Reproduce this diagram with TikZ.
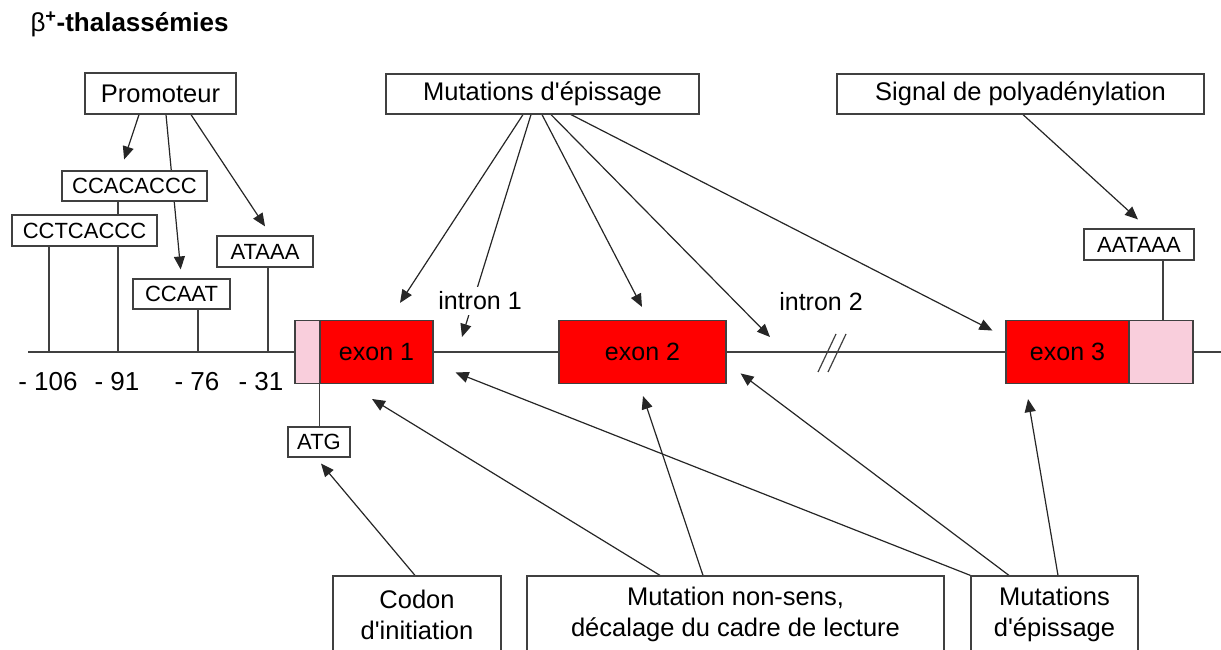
\documentclass[tikz,border=0pt]{standalone}
\usepackage{fontspec}
\newfontfamily\diagfont{Liberation Sans}
\usetikzlibrary{arrows.meta,backgrounds}
\definecolor{exonred}{RGB}{255,0,0}
\definecolor{utrpink}{RGB}{249,206,220}
\definecolor{linegray}{RGB}{64,64,64}

\begin{document}
\begin{tikzpicture}[
        x=1pt, y=-1pt,
        textbox/.style={
            draw=linegray,
            line width=1.2pt,
            fill=white,
            inner sep=0pt,
            align=center,
            font=\diagfont\fontsize{25.5}{31}\selectfont
        },
        seqbox/.style={
            draw=linegray,
            line width=1.2pt,
            fill=white,
            inner sep=0pt,
            minimum height=30pt,
            font=\diagfont\fontsize{22}{26}\selectfont
        },
        exon/.style={
            draw=linegray,
            line width=1.2pt,
            fill=exonred,
            inner sep=0pt,
            minimum height=63pt,
            font=\diagfont\fontsize{25}{30}\selectfont
        },
        utr/.style={draw=linegray, line width=1.2pt, fill=utrpink, inner sep=0pt, minimum height=63pt},
        intronlbl/.style={fill=white, inner sep=5pt, font=\diagfont\fontsize{25}{30}\selectfont},
        coordlbl/.style={font=\diagfont\fontsize{26}{30}\selectfont},
        stem/.style={line width=1.2pt, draw=linegray},
        arrow/.style={-{Triangle[length=13pt,width=11pt]}, line width=1.2pt, draw=black!85}
    ]

    \useasboundingbox (0,0) rectangle (1221,650);
    \clip (0,0) rectangle (1221,650);

    \node[font=\diagfont\bfseries\fontsize{26}{30}\selectfont, anchor=base west] (title) at (27,32)
        {{\mdseries β}\textsuperscript{+}-thalassémies};

    % =========================
    % Promoter
    % =========================
    \node[textbox, minimum width=151pt, minimum height=41pt] (prom) at (160.5,93.5) {Promoteur};
    \node[seqbox, minimum width=145pt] (ccac)  at (134.5,186) {CCACACCC};
    \node[seqbox, minimum width=145pt, minimum height=31pt] (cctc) at (84.5,230.5) {CCTCACCC};
    \node[seqbox, minimum width=97pt]  (ccaat) at (181.5,294) {CCAAT};
    \node[seqbox, minimum width=96pt, minimum height=31pt] (ataaa) at (265,251.5) {ATAAA};

    \coordinate (p106) at (49,352);
    \coordinate (p91)  at (118,352);
    \coordinate (p76)  at (198,352);
    \coordinate (p31)  at (268,352);

    \node[coordlbl] (n106) at (48,382)  {- 106};
    \node[coordlbl] (n91)  at (117,382) {- 91};
    \node[coordlbl] (n76)  at (197,382) {- 76};
    \node[coordlbl] (n31)  at (261,382) {- 31};

    % =========================
    % Gene
    % =========================
    \node[utr, minimum width=25pt]   (utr5)  at (307.5,352) {};
    \node[exon, minimum width=113pt] (exon1) at (376.5,352) {exon 1};
    \node[exon, minimum width=167pt] (exon2) at (642.5,352) {exon 2};
    \node[exon, minimum width=123pt] (exon3) at (1067.5,352) {exon 3};
    \node[utr, minimum width=64pt]   (utr3)  at (1161,352) {};

    \coordinate (dnastart) at (28,352);
    \coordinate (dnaend)   at (1221,352);
    \coordinate (cut)      at (832,353);
    \coordinate (i1tip)    at (462,337);
    \coordinate (i2tip)    at (770,337);

    \node[intronlbl] (intron1) at (480,301) {intron 1};
    \node[intronlbl] (intron2) at (821,302) {intron 2};

    \node[textbox, minimum width=313pt, minimum height=40pt] (epiA) at (542.5,94) {Mutations d'épissage};
    \node[textbox, minimum width=367pt, minimum height=40pt] (poly) at (1020.5,94) {Signal de polyadénylation};
    \node[seqbox, minimum width=110pt, minimum height=31pt] (aataaa) at (1139,244.5) {AATAAA};
    \node[seqbox, minimum width=62pt] (atg) at (319,442) {ATG};

    % =========================
    % Mutations below
    % =========================
    \node[textbox, minimum width=168pt, minimum height=77pt] (codon)   at (417,614.5)   {Codon\\d'initiation};
    \node[textbox, minimum width=417pt, minimum height=77pt] (nonsens) at (735.5,614.5) {Mutation non-sens,\\décalage du cadre de lecture};
    \node[textbox, minimum width=167pt, minimum height=77pt] (epiB)    at (1054.5,614.5) {Mutations\\d'épissage};

    \begin{scope}[on background layer]
        % DNA line
        \draw[stem] (dnastart) -- (utr5.west);
        \draw[stem] (exon1.east) -- (exon2.west);
        \draw[stem] (exon2.east) -- (exon3.west);
        \draw[stem] (utr3.east) -- (dnaend);
        \draw[stem] ([shift={(-14,19)}]cut) -- ([shift={(4,-19)}]cut);
        \draw[stem] ([shift={(-4,19)}]cut) -- ([shift={(14,-19)}]cut);

        % stems
        \draw[stem] (cctc.south -| p106) -- (p106);
        \draw[stem] (ccac.south -| p91) -- (cctc.north -| p91);
        \draw[stem] (cctc.south -| p91) -- (p91);
        \draw[stem] (ccaat.south -| p76) -- (p76);
        \draw[stem] (ataaa.south -| p31) -- (p31);
        \draw[stem] ([xshift=2pt]utr3.north |- aataaa.south) -- ([xshift=2pt]utr3.north);
        \draw[stem] (exon1.south west) -- (exon1.south west |- atg.north);

        % promoter arrows
        \draw[arrow, shorten >=11.5pt] ([xshift=-21.5pt]prom.south) -- ([xshift=-14pt]ccac.north);
        \draw[arrow, shorten >=9pt]    ([xshift=5.5pt]prom.south) -- (ccaat.north);
        \draw[arrow, shorten >=10.8pt] ([xshift=30.5pt]prom.south) -- ([xshift=6pt]ataaa.north);

        % splicing arrows (top)
        \draw[arrow, shorten >=20.3pt] ([xshift=-19.5pt]epiA.south) -- ([xshift=12.4pt]exon1.north);
        \draw[arrow] ([xshift=-11.5pt]epiA.south) -- (i1tip);
        \draw[arrow, shorten >=14.6pt] ([xshift=-0.5pt]epiA.south) -- ([xshift=6.2pt]exon2.north);
        \draw[arrow] ([xshift=8.5pt]epiA.south) -- (i2tip);
        \draw[arrow, shorten >=14.6pt] ([xshift=28.5pt]epiA.south) -- ([yshift=14.8pt]exon3.west);

        % polyadenylation
        \draw[arrow, shorten >=13.3pt] ([xshift=2.5pt]poly.south) -- ([xshift=8.8pt]aataaa.north);

        % arrows from below
        \draw[arrow, shorten >=7.8pt]  ([xshift=-2pt]codon.north) -- ([xshift=-3pt]atg.south);
        \draw[arrow, shorten >=28.5pt] ([xshift=-75.5pt]nonsens.north) -- ([xshift=-28.8pt]exon1.south);
        \draw[arrow, shorten >=12.6pt] ([xshift=-32.5pt]nonsens.north) -- ([xshift=-3.5pt]exon2.south);
        \draw[arrow, shorten >=23.7pt] (epiB.north west) -- ([yshift=-11.8pt]exon1.east);
        \draw[arrow, shorten >=17.5pt] ([xshift=-45.5pt]epiB.north) -- ([yshift=-10.9pt]exon2.east);
        \draw[arrow, shorten >=15.2pt] ([xshift=3.5pt]epiB.north) -- ([xshift=-42pt]exon3.south);
    \end{scope}

\end{tikzpicture}
\end{document}
